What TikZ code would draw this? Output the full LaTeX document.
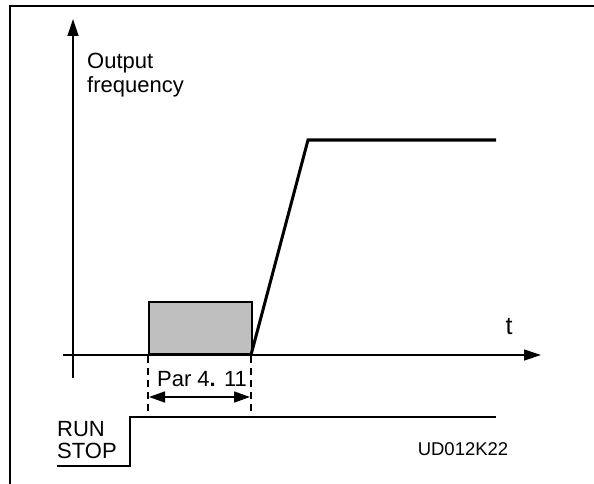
\documentclass[tikz,border=0pt]{standalone}
\usepackage{fontspec}
\setmainfont{Liberation Sans}
\usetikzlibrary{arrows.meta}
\begin{document}
\begin{tikzpicture}[x=1pt,y=-1pt,
  lbl/.style={inner sep=0pt,font=\fontsize{22}{22}\selectfont},
  axis/.style={line width=1.3pt,-{Triangle[length=17pt,width=11pt]}},
  curve/.style={line width=3pt,line join=miter},
  dashline/.style={line width=1.8pt,dash pattern=on 7pt off 5pt}]
\useasboundingbox (0,0) rectangle (594,484);
\draw[line width=1.6pt] (10,484) -- (10,6) -- (594,6);
% axes
\coordinate (yb) at (73,378);
\coordinate (yt) at (73,19);
\coordinate (xl) at (63,355);
\coordinate (xr) at (541,355);
\draw[axis] (yb) -- (yt);
\draw[axis] (xl) -- (xr);
\node[lbl,anchor=north west,align=left,font=\fontsize{22}{23.5}\selectfont] (of) at (87,53) {Output\\frequency};
\node[lbl,font=\fontsize{25}{25}\selectfont] (t) at (509,327) {t};
% gray box
\node[draw,line width=1.6pt,fill=black!25,minimum width=103pt,minimum height=52pt,inner sep=0pt,anchor=south west] (box) at (148,355) {};
% ramp
\coordinate (r0) at (251,355);
\coordinate (r1) at (308,140);
\coordinate (r2) at (496,140);
\draw[curve] (r0) -- (r1) -- (r2);
% dashed
\coordinate (d1a) at (148,356);
\coordinate (d1b) at (148,412);
\coordinate (d2a) at (251,356);
\coordinate (d2b) at (251,412);
\draw[dashline] (d1a) -- (d1b);
\draw[dashline] (d2a) -- (d2b);
\coordinate (al) at (149,397);
\coordinate (ar) at (250,397);
\draw[line width=1.6pt,{Triangle[length=16pt,width=11pt]}-{Triangle[length=16pt,width=11pt]}] (al) -- (ar);
\node[lbl] (par) at (202,379) {Par 4\textbf{.} 11};
% run/stop
\coordinate (s0) at (57,466);
\coordinate (s1) at (130,466);
\coordinate (s2) at (130,417);
\coordinate (s3) at (496,417);
\draw[line width=2.4pt] (s0) -- (s1) -- (s2) -- (s3);
\node[lbl,anchor=west,align=left,font=\fontsize{22}{22}\selectfont] (rs) at (57,440) {RUN\\STOP};
\node[lbl,font=\fontsize{18.5}{18.5}\selectfont] (ud) at (463,449) {UD012K22};
\end{tikzpicture}
\end{document}
